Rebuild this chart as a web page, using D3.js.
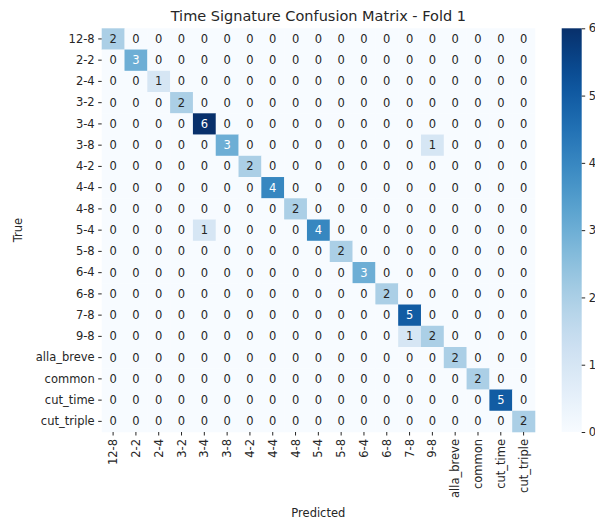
<!DOCTYPE html>
<html>
<head>
<meta charset="utf-8">
<script src="https://cdn.jsdelivr.net/npm/d3@7"></script>
<style>
  body { margin: 0; background: #fff; }
  text { font-family: "DejaVu Sans", sans-serif; }
</style>
</head>
<body>
<div id="chart"></div>
<script>
// class labels (same for true and predicted)
const labels = ["12-8", "2-2", "2-4", "3-2", "3-4", "3-8", "4-2", "4-4", "4-8", "5-4",
  "5-8", "6-4", "6-8", "7-8", "9-8", "alla_breve", "common", "cut_time", "cut_triple"];

// non-zero cells: [trueIndex, predIndex, count]
const hits = [
  [0, 0, 2], [1, 1, 3], [2, 2, 1], [3, 3, 2], [4, 4, 6], [5, 5, 3], [5, 14, 1],
  [6, 6, 2], [7, 7, 4], [8, 8, 2], [9, 4, 1], [9, 9, 4], [10, 10, 2], [11, 11, 3],
  [12, 12, 2], [13, 13, 5], [14, 13, 1], [14, 14, 2], [15, 15, 2], [16, 16, 2],
  [17, 17, 5], [18, 18, 2]
];
const colorTicks = [0, 1, 2, 3, 4, 5, 6];

main();

function main() {
  const width = 595;
  const height = 522;
  const margin = { top: 28.3, right: 60, bottom: 90, left: 101.7 };
  const fontSize = "11.5px";
  const textColor = "#262626";

  // build full matrix
  const cells = [];
  labels.forEach((t, i) => labels.forEach((p, j) => cells.push({ t, p, v: 0 })));
  for (const [i, j, v] of hits) cells[i * labels.length + j].v = v;

  const svg = d3
    .select("#chart")
    .append("svg")
    .attr("width", width)
    .attr("height", height);

  const plotW = 535 - margin.left;
  const plotH = 432 - margin.top;

  const scaleX = d3.scaleBand().domain(labels).range([margin.left, margin.left + plotW]);
  const scaleY = d3.scaleBand().domain(labels).range([margin.top, margin.top + plotH]);
  const scaleColor = d3.scaleSequential(d3.interpolateBlues).domain([0, 6]);

  // cells
  svg
    .append("g")
    .selectAll("rect")
    .data(cells)
    .join("rect")
    .attr("x", (d) => scaleX(d.p))
    .attr("y", (d) => scaleY(d.t))
    .attr("width", scaleX.bandwidth() + 0.3)
    .attr("height", scaleY.bandwidth() + 0.3)
    .attr("fill", (d) => scaleColor(d.v));

  // annotations
  svg
    .append("g")
    .selectAll("text")
    .data(cells)
    .join("text")
    .attr("x", (d) => scaleX(d.p) + scaleX.bandwidth() / 2)
    .attr("y", (d) => scaleY(d.t) + scaleY.bandwidth() / 2)
    .attr("text-anchor", "middle")
    .attr("dominant-baseline", "central")
    .attr("font-size", fontSize)
    .attr("fill", (d) => (d.v >= 3 ? "#ffffff" : textColor))
    .text((d) => d.v);

  // axes
  const axisY = svg
    .append("g")
    .attr("transform", `translate(${margin.left}, 0)`)
    .call(d3.axisLeft(scaleY).tickSize(3.5).tickPadding(3.5));
  axisY.select(".domain").remove();
  axisY.selectAll("text").attr("font-size", fontSize).attr("fill", textColor)
    .attr("font-family", "DejaVu Sans, sans-serif");
  axisY.selectAll("line").attr("stroke", textColor);

  const axisX = svg
    .append("g")
    .attr("transform", `translate(0, ${margin.top + plotH})`)
    .call(d3.axisBottom(scaleX).tickSize(3.5).tickPadding(3.5));
  axisX.select(".domain").remove();
  axisX.selectAll("line").attr("stroke", textColor);
  axisX
    .selectAll("text")
    .attr("font-size", fontSize)
    .attr("fill", textColor)
    .attr("font-family", "DejaVu Sans, sans-serif")
    .attr("transform", "rotate(-90)")
    .attr("text-anchor", "end")
    .attr("dy", "0.35em")
    .attr("x", -7)
    .attr("y", 0);

  // axis titles
  svg
    .append("text")
    .attr("x", margin.left + plotW / 2)
    .attr("y", 517)
    .attr("text-anchor", "middle")
    .attr("font-size", fontSize)
    .attr("fill", textColor)
    .text("Predicted");
  svg
    .append("text")
    .attr("transform", `translate(22, ${margin.top + plotH / 2}) rotate(-90)`)
    .attr("text-anchor", "middle")
    .attr("font-size", fontSize)
    .attr("fill", textColor)
    .text("True");

  // title
  svg
    .append("text")
    .attr("x", margin.left + plotW / 2)
    .attr("y", 20.5)
    .attr("text-anchor", "middle")
    .attr("font-size", "14.5px")
    .attr("fill", textColor)
    .text("Time Signature Confusion Matrix - Fold 1");

  // colorbar
  const cbX = 561.7;
  const cbW = 20;
  const scaleCb = d3.scaleLinear().domain([0, 6]).range([margin.top + plotH, margin.top]);
  const defs = svg.append("defs");
  const grad = defs
    .append("linearGradient")
    .attr("id", "cbGrad")
    .attr("x1", 0).attr("y1", 1).attr("x2", 0).attr("y2", 0);
  d3.range(0, 1.0001, 0.05).forEach((t) => {
    grad.append("stop").attr("offset", t).attr("stop-color", d3.interpolateBlues(t));
  });
  svg
    .append("rect")
    .attr("x", cbX)
    .attr("y", margin.top)
    .attr("width", cbW)
    .attr("height", plotH)
    .attr("fill", "url(#cbGrad)");
  const axisCb = svg
    .append("g")
    .attr("transform", `translate(${cbX + cbW}, 0)`)
    .call(d3.axisRight(scaleCb).tickValues(colorTicks).tickSize(3.5).tickPadding(3.5));
  axisCb.select(".domain").remove();
  axisCb.selectAll("line").attr("stroke", textColor);
  axisCb.selectAll("text").attr("font-size", fontSize).attr("fill", textColor)
    .attr("font-family", "DejaVu Sans, sans-serif");
}
</script>
</body>
</html>
